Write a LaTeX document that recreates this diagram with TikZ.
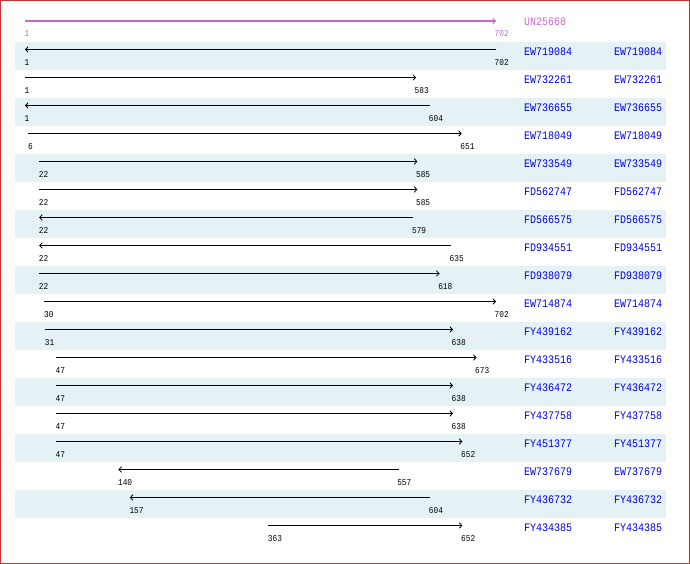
\documentclass[tikz,border=0pt]{standalone}
\usepackage{fontspec}
\setmonofont{Liberation Mono}
\newfontfamily\accfont{Liberation Mono}[FakeStretch=0.87]
\usetikzlibrary{arrows.meta}
\definecolor{band}{RGB}{228,241,245}
\definecolor{acc}{RGB}{0,0,238}
\definecolor{orch}{RGB}{204,102,204}
\definecolor{frame}{RGB}{200,50,50}
\tikzset{
  seq/.style={line width=1pt,black},
  barb/.tip={Straight Barb[length=2.6pt,width=5.5pt,line width=0.8pt]},
  numlbl/.style={anchor=west,inner sep=0pt,font=\fontsize{9}{10}\selectfont\accfont},
  acclbl/.style={anchor=west,inner sep=0pt,text=acc,font=\fontsize{11.5}{13}\selectfont\accfont},
  bandbox/.style={fill=band,draw=none}
}
\begin{document}
\begin{tikzpicture}[x=1pt,y=1pt]
\useasboundingbox (0,0) rectangle (690,-564);
% bands
\foreach \i in {1,3,...,17}{
  \fill[band] (15,{-42-28*(\i-1)}) rectangle (666,{-70-28*(\i-1)});
}
% reference sequence
\coordinate (s0) at (25,-21);
\coordinate (e0) at (496,-21);
\draw[line width=2pt,orch,-barb] (s0) -- (e0);
\node[numlbl,text=orch] (sl0) at (24.5,-34) {1};
\node[numlbl,text=orch] (el0) at (494.5,-34) {702};
\node[acclbl,text=orch] (a0) at (524,-22) {UN25668};
% rows
\foreach \i/\s/\e/\d/\n in {
 1/1/702/0/EW719084,
 2/1/583/1/EW732261,
 3/1/604/0/EW736655,
 4/6/651/1/EW718049,
 5/22/585/1/EW733549,
 6/22/585/1/FD562747,
 7/22/579/0/FD566575,
 8/22/635/0/FD934551,
 9/22/618/1/FD938079,
 10/30/702/1/EW714874,
 11/31/638/1/FY439162,
 12/47/673/1/FY433516,
 13/47/638/1/FY436472,
 14/47/638/1/FY437758,
 15/47/652/1/FY451377,
 16/140/557/0/EW737679,
 17/157/604/0/FY436732,
 18/363/652/1/FY434385}{
  \pgfmathsetmacro\xs{25+(\s-1)*0.671897}
  \pgfmathsetmacro\xe{25+(\e-1)*0.671897}
  \pgfmathsetmacro\yy{-21.5-28*\i}
  \coordinate (s\i) at (\xs,\yy);
  \coordinate (e\i) at (\xe,\yy);
  \ifnum\d=1
    \draw[seq,-barb] (s\i) -- (e\i);
  \else
    \draw[seq,barb-] (s\i) -- (e\i);
  \fi
  \node[numlbl] (sl\i) at (\xs-0.5,\yy-13) {\s};
  \node[numlbl] (el\i) at (\xe-1.5,\yy-13) {\e};
  \node[acclbl] (a\i) at (524,\yy-2) {\n};
  \node[acclbl] (b\i) at (614,\yy-2) {\n};
}
% frame
\draw[frame,line width=1.2pt] (0.6,-0.6) rectangle (689.4,-563.4);
\end{tikzpicture}
\end{document}
